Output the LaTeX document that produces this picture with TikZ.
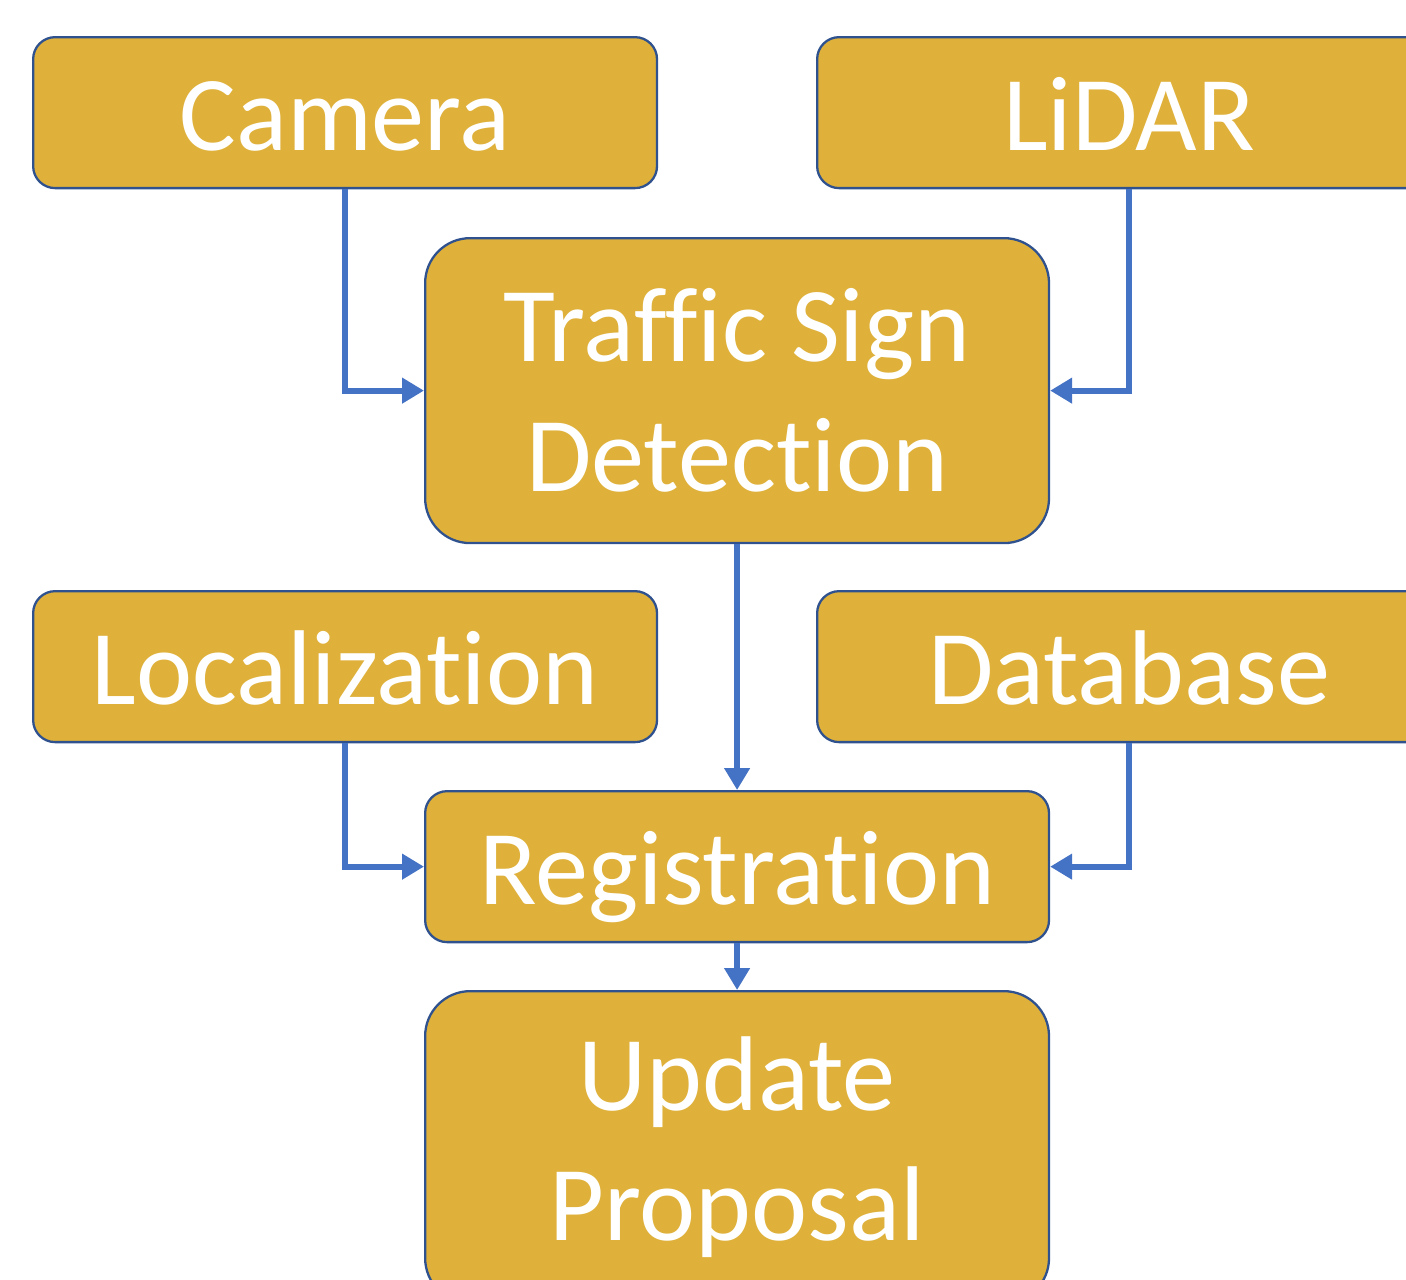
\documentclass[tikz,border=0pt]{standalone}
\usepackage{fontspec}
\setmainfont[Ligatures={NoCommon}]{Carlito}
\usetikzlibrary{arrows.meta}
\definecolor{boxfill}{HTML}{DFB13A}
\definecolor{boxline}{HTML}{2F528F}
\definecolor{arrowblue}{HTML}{4472C4}
\tikzset{
  box/.style={draw=boxline, line width=1.3pt, fill=boxfill, text=white,
    minimum width=12.48cm, font=\fontsize{60.5}{74}\selectfont, align=center,
    inner sep=0pt, anchor=north west},
  smallbox/.style={box, rounded corners=0.44cm, minimum height=3.02cm,
    text height=43pt, text depth=0pt},
  bigbox/.style={box, rounded corners=0.9cm},
  conn/.style={draw=arrowblue, line width=3.4pt,
    -{Triangle[length=12.5pt, width=14pt]}}
}
\begin{document}
\begin{tikzpicture}[x=0.02cm, y=-0.02cm]
\useasboundingbox (0,0) rectangle (1406,1279);
\clip (0,0) rectangle (1406,1279);
\node[smallbox] (camera) at (32,36) {Camera};
\node[smallbox] (lidar) at (816,36) {LiDAR};
\node[bigbox, minimum height=6.1cm] (tsd) at (424,237) {Traffic Sign\\Detection};
\node[smallbox] (loc) at (32,590) {Localization};
\node[smallbox] (db) at (816,590) {Database};
\node[smallbox] (reg) at (424,790) {Registration};
\node[bigbox, minimum height=6.24cm] (upd) at (424,990) {Update\\Proposal};
\draw[conn] (camera.south) |- (tsd.west);
\draw[conn] (lidar.south) |- (tsd.east);
\draw[conn] (tsd.south) -- (reg.north);
\draw[conn] (loc.south) |- (reg.west);
\draw[conn] (db.south) |- (reg.east);
\draw[conn] (reg.south) -- (upd.north);
\end{tikzpicture}
\end{document}
